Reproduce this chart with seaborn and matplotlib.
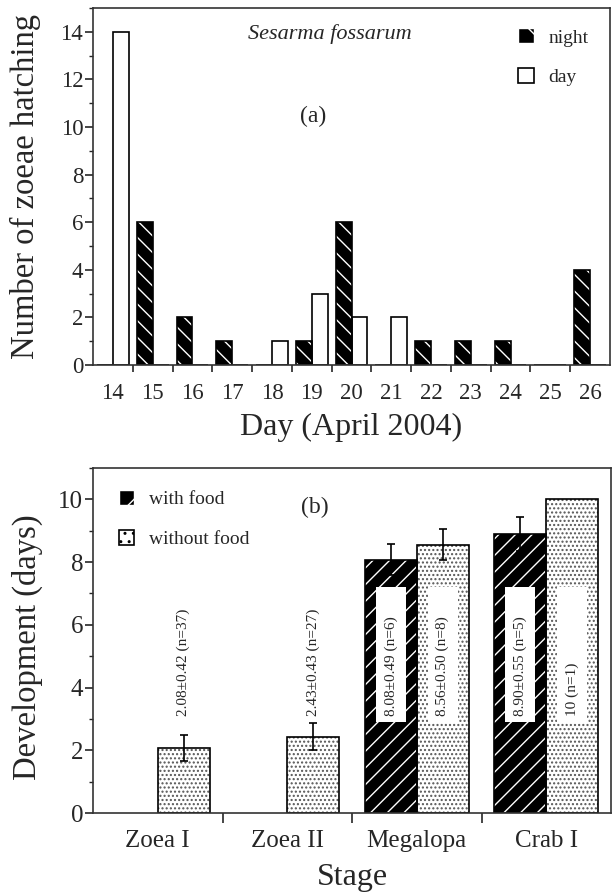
import numpy as np
import pandas as pd
import matplotlib
matplotlib.use("Agg")
import matplotlib.pyplot as plt
import seaborn as sns
from matplotlib.patches import Patch, Rectangle
from matplotlib.ticker import MultipleLocator, FixedLocator

# ---------------- data ----------------
days = ["14", "15", "16", "17", "18", "19", "20", "21", "22", "23", "24", "25", "26"]
night_counts = [0, 6, 2, 1, 0, 1, 6, 0, 1, 1, 1, 0, 4]
day_counts = [14, 0, 0, 0, 1, 3, 2, 2, 0, 0, 0, 0, 0]

stages = ["Zoea I", "Zoea II", "Megalopa", "Crab I"]
with_food_mean = [np.nan, np.nan, 8.08, 8.90]
with_food_sd = [np.nan, np.nan, 0.49, 0.55]
with_food_n = [None, None, 6, 5]
without_food_mean = [2.08, 2.43, 8.56, 10.0]
without_food_sd = [0.42, 0.43, 0.50, np.nan]
without_food_n = [37, 27, 8, 1]

# ---------------- style ----------------
sns.set_style("ticks")
plt.rcParams["font.family"] = ["Liberation Serif", "DejaVu Serif"]
plt.rcParams["hatch.linewidth"] = 1.0
plt.rcParams["axes.linewidth"] = 1.2
plt.rcParams["axes.edgecolor"] = "#333333"

fig = plt.figure(figsize=(6.13, 8.94), dpi=100)
ax1 = fig.add_axes([93 / 613, 529 / 894, 517 / 613, 357 / 894])
ax2 = fig.add_axes([93 / 613, 81 / 894, 518 / 613, 345 / 894])

# ---------------- panel (a) ----------------
df_a = pd.DataFrame({
    "Day": days * 2,
    "Period": ["night"] * len(days) + ["day"] * len(days),
    "Count": night_counts + day_counts,
})
sns.barplot(data=df_a, x="Day", y="Count", hue="Period", order=days,
            hue_order=["night", "day"], palette={"night": "black", "day": "white"},
            saturation=1, errorbar=None, width=0.8, legend=False, ax=ax1)

for cont, period in zip(ax1.containers, ["night", "day"]):
    for p in cont.patches:
        if period == "night":
            p.set_facecolor("black")
            p.set_edgecolor("white")
            p.set_hatch("\\\\")
            p.set_linewidth(0)
            ax1.add_patch(Rectangle(p.get_xy(), p.get_width(), p.get_height(),
                                    fill=False, edgecolor="black", lw=1.2, zorder=p.get_zorder() + 0.1))
        else:
            p.set_facecolor("white")
            p.set_edgecolor("black")
            p.set_linewidth(1.2)

ax1.set_xlim(-0.5, len(days) - 0.5)
ax1.set_ylim(0, 15)
ax1.yaxis.set_major_locator(FixedLocator([0, 2, 4, 6, 8, 10, 12, 14]))
ax1.yaxis.set_minor_locator(MultipleLocator(1))
ax1.xaxis.set_minor_locator(FixedLocator(np.arange(0.5, len(days) - 1, 1)))
ax1.tick_params(axis="x", which="major", length=0, pad=13, labelsize=16.5)
ax1.tick_params(axis="x", which="minor", length=5, width=1.2, direction="out")
ax1.tick_params(axis="y", which="major", length=6, width=1.2, pad=1, labelsize=16.5)
ax1.tick_params(axis="y", which="minor", length=3, width=1.0)
ax1.set_xlabel("Day (April 2004)", fontsize=23)
ax1.set_ylabel("Number of zoeae hatching", fontsize=23.5)
ax1.xaxis.set_label_coords(0.5, -0.135)
ax1.yaxis.set_label_coords(-0.1, 0.499)
ax1.text(0.458, 0.926, "Sesarma fossarum", style="italic", fontsize=16,
         ha="center", va="center", transform=ax1.transAxes)
ax1.text(0.4255, 0.695, "(a)", fontsize=17, ha="center", va="center", transform=ax1.transAxes)

leg_a = [Patch(facecolor="black", edgecolor="white", hatch="\\", label="night"),
         Patch(facecolor="white", edgecolor="black", lw=1.2, label="day")]
ax1.legend(handles=leg_a, loc="upper left", bbox_to_anchor=(0.822, 0.943), frameon=False,
           fontsize=14, handlelength=0.8, handleheight=0.8, handletextpad=0.75,
           labelspacing=1.1, borderpad=0, borderaxespad=0)

# ---------------- panel (b) ----------------
df_b = pd.DataFrame({
    "Stage": stages * 2,
    "Food": ["with food"] * len(stages) + ["without food"] * len(stages),
    "Days": with_food_mean + without_food_mean,
})
sns.barplot(data=df_b, x="Stage", y="Days", hue="Food", order=stages,
            hue_order=["with food", "without food"],
            palette={"with food": "black", "without food": "white"},
            saturation=1, errorbar=None, width=0.8, legend=False, ax=ax2)

box_bottom, box_top, box_width = 2.9, 7.2, 0.23
label_y = 3.1
series = {
    "with food": (with_food_mean, with_food_sd, with_food_n),
    "without food": (without_food_mean, without_food_sd, without_food_n),
}
for cont, food in zip(ax2.containers, ["with food", "without food"]):
    means, sds, ns = series[food]
    for p in cont.patches:
        if not np.isfinite(p.get_height()):
            continue
        xc = p.get_x() + p.get_width() / 2
        i = int(round(xc))
        z = p.get_zorder()
        if food == "with food":
            p.set_facecolor("black")
            p.set_edgecolor("white")
            p.set_hatch("//")
        else:
            p.set_facecolor("white")
            p.set_edgecolor("#555555")
            p.set_hatch("....")
        p.set_linewidth(0)
        ax2.add_patch(Rectangle(p.get_xy(), p.get_width(), p.get_height(),
                                fill=False, edgecolor="black", lw=1.2, zorder=z + 0.1))
        m, s, n = means[i], sds[i], ns[i]
        if np.isfinite(s):
            ax2.errorbar(xc, m, yerr=s, fmt="none", ecolor="black", elinewidth=1.2,
                         capsize=3, capthick=1.2, zorder=z + 0.2)
            label = f"{m:.2f}±{s:.2f} (n={n})"
        else:
            label = f"{m:g} (n={n})"
        if m > box_top:
            ax2.bar(xc, box_top - box_bottom, bottom=box_bottom, width=box_width,
                    color="white", linewidth=0, zorder=z + 0.3)
        ax2.text(xc, label_y, label, rotation=90, ha="center", va="bottom",
                 fontsize=11, zorder=z + 0.4)

ax2.set_xlim(-0.5, len(stages) - 0.5)
ax2.set_ylim(0, 11)
ax2.yaxis.set_major_locator(FixedLocator([0, 2, 4, 6, 8, 10]))
ax2.yaxis.set_minor_locator(MultipleLocator(1))
ax2.xaxis.set_minor_locator(FixedLocator(np.arange(0.5, len(stages) - 1, 1)))
ax2.tick_params(axis="x", which="major", length=0, pad=12, labelsize=18)
ax2.tick_params(axis="x", which="minor", length=7, width=1.2, direction="out")
ax2.tick_params(axis="y", which="major", length=6, width=1.2, pad=1, labelsize=18)
ax2.tick_params(axis="y", which="minor", length=3, width=1.0)
ax2.set_xlabel("Stage", fontsize=23)
ax2.set_ylabel("Development (days)", fontsize=23.5)
ax2.xaxis.set_label_coords(0.5, -0.145)
ax2.yaxis.set_label_coords(-0.0965, 0.481)
ax2.text(0.4286, 0.887, "(b)", fontsize=17, ha="center", va="center", transform=ax2.transAxes)

leg_b = [Patch(facecolor="black", edgecolor="white", hatch="/", label="with food"),
         Patch(facecolor="white", edgecolor="black", hatch="..", lw=1.2, label="without food")]
ax2.legend(handles=leg_b, loc="upper left", bbox_to_anchor=(0.05, 0.936), frameon=False,
           fontsize=14, handlelength=0.8, handleheight=0.8, handletextpad=0.75,
           labelspacing=1.1, borderpad=0, borderaxespad=0)

for ax in (ax1, ax2):
    for s in ax.spines.values():
        s.set_visible(True)

fig.savefig("out.png", dpi=100)
